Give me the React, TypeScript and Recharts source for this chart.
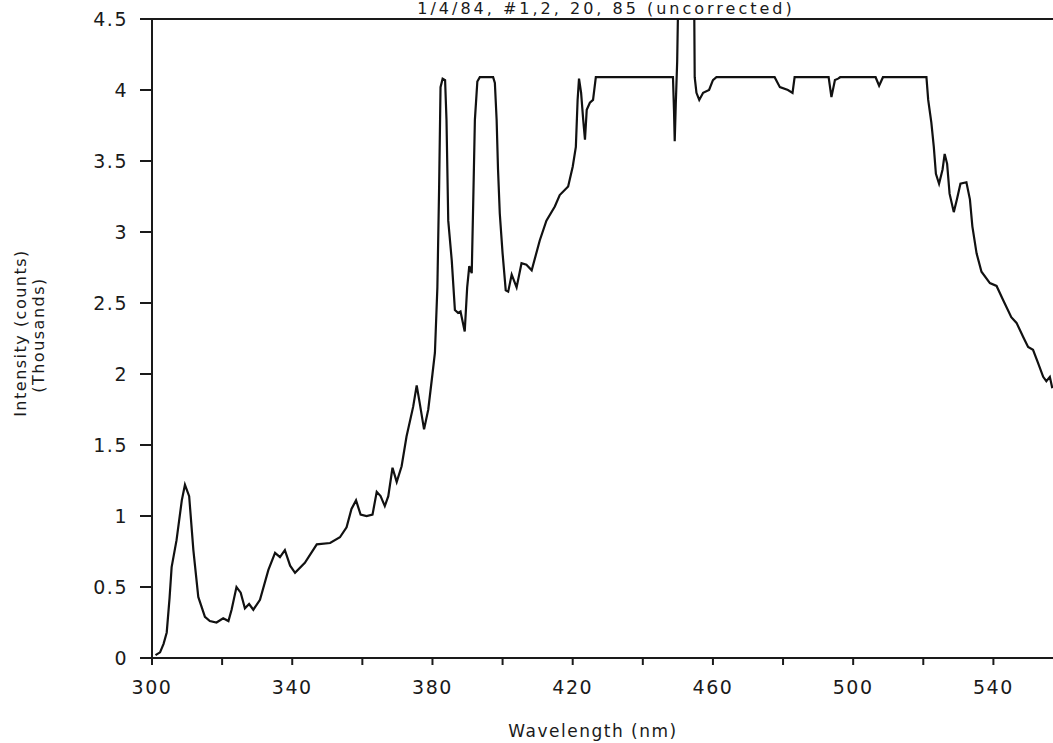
import React from 'react';
import { LineChart, Line, XAxis, YAxis, ReferenceLine } from 'recharts';

// wavelength (nm) and intensity (thousands of counts)
const wavelength = [
  301.0, 302.3, 303.3, 304.2, 305.0, 305.6, 307.0, 308.5, 309.4, 310.6, 311.8, 313.2, 315.1, 316.5,
  318.4, 320.3, 321.8, 322.7, 324.1, 325.3, 326.5, 327.7, 328.9, 330.8, 333.2, 335.1, 336.5, 337.9,
  339.4, 340.8, 343.6, 347.0, 350.8, 353.6, 355.5, 356.9, 358.2, 359.5, 361.2, 362.9, 364.1, 365.2,
  366.4, 367.4, 368.6, 369.8, 371.2, 372.6, 374.5, 375.5, 376.4, 377.6, 378.8, 380.0, 380.7, 381.4,
  381.9, 382.3, 382.9, 383.6, 384.0, 384.5, 385.5, 386.4, 387.3, 388.0, 389.2, 389.9, 390.5, 391.2,
  391.6, 392.1, 392.8, 393.5, 397.3, 397.8, 398.3, 398.7, 399.2, 400.0, 400.9, 401.6, 402.6, 404.0,
  405.4, 406.8, 408.3, 410.6, 412.5, 414.9, 416.3, 418.7, 420.0, 420.9, 421.4, 421.8, 422.4, 423.0,
  423.5, 424.0, 424.9, 425.8, 426.6, 448.6, 448.9, 449.1, 449.4, 449.8, 450.2, 454.6, 454.8, 455.3,
  456.1, 457.2, 458.9, 460.0, 461.0, 477.6, 479.1, 481.4, 482.7, 483.3, 493.0, 493.8, 494.8, 495.7,
  496.3, 506.4, 507.4, 508.5, 520.9, 521.4, 522.3, 523.0, 523.6, 524.5, 525.5, 526.1, 526.8, 527.5,
  528.7, 529.6, 530.6, 532.3, 533.3, 534.0, 535.2, 536.6, 539.0, 540.9, 542.8, 545.1, 546.6, 548.5,
  549.9, 551.3, 552.7, 554.2, 555.1, 556.1, 556.8,
];

const intensity = [
  0.02, 0.04, 0.10, 0.18, 0.42, 0.64, 0.83, 1.11, 1.22, 1.14, 0.76, 0.43, 0.29, 0.26,
  0.25, 0.28, 0.26, 0.34, 0.50, 0.46, 0.35, 0.38, 0.34, 0.41, 0.62, 0.74, 0.71, 0.76,
  0.65, 0.60, 0.67, 0.80, 0.81, 0.85, 0.92, 1.05, 1.11, 1.01, 1.00, 1.01, 1.17, 1.14,
  1.07, 1.14, 1.34, 1.24, 1.35, 1.56, 1.77, 1.92, 1.79, 1.61, 1.75, 2.00, 2.15, 2.61,
  3.32, 4.02, 4.08, 4.07, 3.79, 3.08, 2.80, 2.45, 2.43, 2.44, 2.30, 2.61, 2.76, 2.71,
  3.18, 3.79, 4.06, 4.09, 4.09, 4.05, 3.79, 3.44, 3.13, 2.85, 2.59, 2.58, 2.70, 2.61,
  2.78, 2.77, 2.73, 2.94, 3.08, 3.18, 3.26, 3.32, 3.46, 3.60, 3.93, 4.08, 3.98, 3.79,
  3.65, 3.86, 3.91, 3.93, 4.09, 4.09, 3.85, 3.64, 3.90, 4.20, 4.80, 4.80, 4.09, 3.98,
  3.93, 3.98, 4.00, 4.07, 4.09, 4.09, 4.02, 4.00, 3.98, 4.09, 4.09, 3.95, 4.07, 4.08,
  4.09, 4.09, 4.03, 4.09, 4.09, 3.93, 3.77, 3.60, 3.41, 3.34, 3.44, 3.55, 3.48, 3.27,
  3.14, 3.23, 3.34, 3.35, 3.23, 3.04, 2.85, 2.72, 2.64, 2.62, 2.52, 2.40, 2.36, 2.26,
  2.19, 2.17, 2.08, 1.98, 1.95, 1.98, 1.90,
];

const xTicks = [300, 320, 340, 360, 380, 400, 420, 440, 460, 480, 500, 520, 540];
const yTicks = [0, 0.5, 1, 1.5, 2, 2.5, 3, 3.5, 4, 4.5];

const data = wavelength.map((nm, i) => ({ nm, v: intensity[i] }));

const FONT = '"DejaVu Sans", sans-serif';
const INK = '#1a1a1a';

const tickStyle = { fontFamily: FONT, fontSize: 19, fill: INK, letterSpacing: 1.5 };

export default function App() {
  return (
    <div style={{ position: 'absolute', left: 0, top: 0, width: 1053, height: 743, background: '#fff', overflow: 'hidden' }}>
      <LineChart width={1053} height={743} data={data} margin={{ top: 19, right: 0, left: 0, bottom: 0 }}>
        <XAxis
          dataKey="nm"
          type="number"
          domain={[300, 557]}
          allowDataOverflow
          ticks={xTicks}
          tickFormatter={(v: number) => ((v - 300) % 40 === 0 ? String(v) : '')}
          tickSize={7}
          tickMargin={16}
          height={85}
          stroke={INK}
          strokeWidth={2}
          tick={tickStyle}
        />
        <YAxis
          type="number"
          domain={[0, 4.5]}
          allowDataOverflow
          ticks={yTicks}
          tickFormatter={(v: number) => String(v)}
          tickSize={12}
          tickMargin={12}
          width={152}
          stroke={INK}
          strokeWidth={2}
          tick={tickStyle}
        />
        <ReferenceLine y={4.5} stroke={INK} strokeWidth={2} />
        <Line
          dataKey="v"
          type="linear"
          stroke="#111"
          strokeWidth={2.2}
          dot={false}
          isAnimationActive={false}
        />
      </LineChart>
      <svg width={1053} height={743} style={{ position: 'absolute', left: 0, top: 0, pointerEvents: 'none' }}>
        <text x={606} y={14} textAnchor="middle" fontFamily={FONT} fontSize={16} fill={INK} letterSpacing={3}>
          1/4/84, #1,2, 20, 85 (uncorrected)
        </text>
        <g transform="translate(20,333) rotate(-90)">
          <text textAnchor="middle" dominantBaseline="central" fontFamily={FONT} fontSize={16} fill={INK} letterSpacing={1.5}>
            Intensity (counts)
          </text>
        </g>
        <g transform="translate(38,335) rotate(-90)">
          <text textAnchor="middle" dominantBaseline="central" fontFamily={FONT} fontSize={16} fill={INK} letterSpacing={1.5}>
            (Thousands)
          </text>
        </g>
        <text x={593} y={737} textAnchor="middle" fontFamily={FONT} fontSize={17} fill={INK} letterSpacing={1.5}>
          Wavelength (nm)
        </text>
      </svg>
    </div>
  );
}
